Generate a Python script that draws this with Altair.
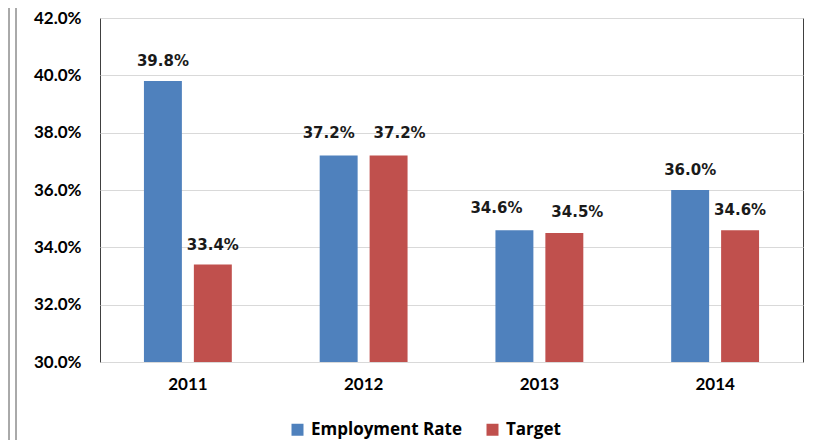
import altair as alt
import pandas as pd

years = ["2011", "2012", "2013", "2014"]
employment_rate = [0.398, 0.372, 0.346, 0.360]
target = [0.334, 0.372, 0.345, 0.346]
series = ["Employment Rate", "Target"]
colors = ["#4F81BD", "#C0504D"]
y_ticks = [0.30, 0.32, 0.34, 0.36, 0.38, 0.40, 0.42]

rows = []
for i, yr in enumerate(years):
    rows.append({"year": yr, "series": series[0], "value": employment_rate[i]})
    rows.append({"year": yr, "series": series[1], "value": target[i]})
df = pd.DataFrame(rows)

x = alt.X(
    "year:N", sort=years,
    scale=alt.Scale(paddingInner=0.5, paddingOuter=0.25),
    axis=alt.Axis(title=None, labelAngle=0, labelFont="Lato", labelFontSize=17,
                  labelFontWeight="bold", labelColor="#000000", labelPadding=14,
                  ticks=False, domain=False, grid=False),
)
xo = alt.XOffset("series:N", sort=series, scale=alt.Scale(paddingInner=0.24, paddingOuter=0))
y = alt.Y(
    "value:Q",
    scale=alt.Scale(domain=[0.30, 0.42], nice=False, zero=False),
    axis=alt.Axis(title=None, format=".1%", values=y_ticks, labelFont="Lato",
                  labelFontSize=17, labelFontWeight="bold", labelColor="#000000",
                  labelPadding=19, grid=True, gridColor="#D9D9D9", ticks=False,
                  domain=False),
)

bars = alt.Chart(df).mark_bar(clip=True).encode(
    x=x, xOffset=xo, y=y,
    color=alt.Color(
        "series:N", sort=series,
        scale=alt.Scale(domain=series, range=colors),
        legend=alt.Legend(title=None, orient="none", legendX=189, legendY=403,
                          direction="horizontal", symbolType="square",
                          symbolSize=144, symbolStrokeWidth=0,
                          labelFont="Open Sans", labelFontSize=17,
                          labelFontWeight="bold", labelColor="#000000",
                          labelOffset=5, columnPadding=22, labelLimit=300),
    ),
)


def label_layer(expr, dx, dy):
    return alt.Chart(df).transform_filter(expr).mark_text(
        font="DejaVu Sans", fontSize=15, fontWeight="bold", color="#1a1a1a",
        baseline="alphabetic", dx=dx, dy=dy,
    ).encode(x=x, xOffset=xo, y=y, text=alt.Text("value:Q", format=".1%"))


labels_default = label_layer("datum.year == '2011' || datum.year == '2014'", 0, -15)
labels_12a = label_layer("datum.year == '2012' && datum.series == 'Employment Rate'", -10, -18)
labels_12b = label_layer("datum.year == '2012' && datum.series == 'Target'", 11, -18)
labels_13a = label_layer("datum.year == '2013' && datum.series == 'Employment Rate'", -18, -17)
labels_13b = label_layer("datum.year == '2013' && datum.series == 'Target'", 13, -16)

edge_df = pd.DataFrame({"k": [0]})
line1 = alt.Chart(edge_df).mark_rule(color="#555555", strokeWidth=1).encode(
    x=alt.value(-91), y=alt.value(-20), y2=alt.value(440))
line2 = alt.Chart(edge_df).mark_rule(color="#555555", strokeWidth=1).encode(
    x=alt.value(-84), y=alt.value(-20), y2=alt.value(440))

chart = alt.layer(bars, labels_default, labels_12a, labels_12b, labels_13a,
                  labels_13b, line1, line2).properties(
    width=703, height=344,
    autosize=alt.AutoSizeParams(type="none"),
    padding={"left": 92, "top": 10, "right": 4, "bottom": 78},
    background="white",
).configure_view(stroke="#404040", strokeWidth=1)

chart.save("out.html", embed_options={"renderer": "svg", "actions": False})
